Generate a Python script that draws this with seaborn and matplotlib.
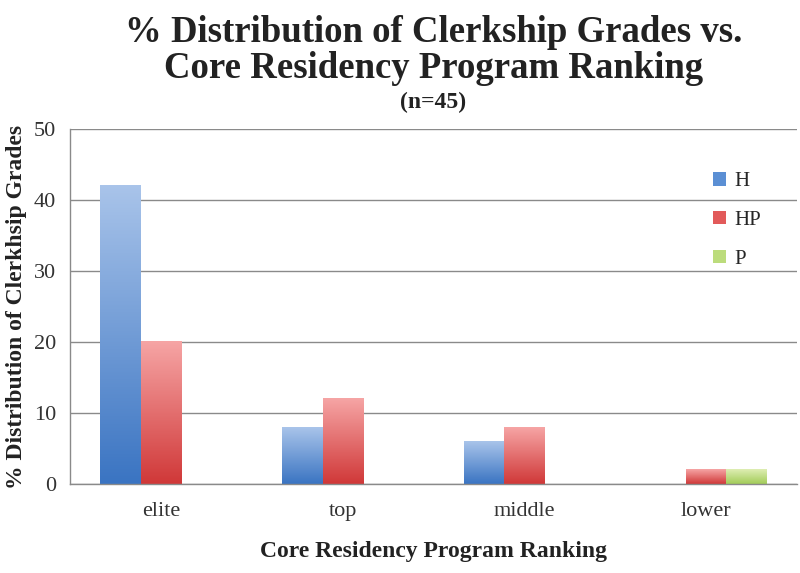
import numpy as np
import pandas as pd
import seaborn as sns
import matplotlib.pyplot as plt
from matplotlib.patches import Patch
from matplotlib.colors import LinearSegmentedColormap

rankings = ['elite', 'top', 'middle', 'lower']
grades = ['H', 'HP', 'P']
h_pct = [42, 8, 6, 0]
hp_pct = [20, 12, 8, 2]
p_pct = [0, 0, 0, 2]

# light (top) -> dark (bottom) per grade
grad_colors = {
    'H': ('#a9c4ea', '#3a74c2'),
    'HP': ('#f6a5a5', '#d03838'),
    'P': ('#dfeeb4', '#a2cc58'),
}
mid_colors = {'H': '#5b8fd4', 'HP': '#e25a5a', 'P': '#bcdc7c'}

df = pd.DataFrame({
    'ranking': rankings * 3,
    'grade': ['H'] * 4 + ['HP'] * 4 + ['P'] * 4,
    'pct': h_pct + hp_pct + p_pct,
})

sns.set_style('white')
plt.rcParams['font.family'] = ['Liberation Serif', 'DejaVu Serif']

fig = plt.figure(figsize=(8, 5.73), dpi=100)
ax = fig.add_axes([0.0875, 0.155, 0.909, 0.62])

sns.barplot(data=df, x='ranking', y='pct', hue='grade', order=rankings,
            hue_order=grades, palette=mid_colors, width=0.665, saturation=1,
            legend=False, ax=ax)

grad = np.linspace(0, 1, 256).reshape(-1, 1)
for g, cont in zip(grades, ax.containers):
    light, dark = grad_colors[g]
    cmap = LinearSegmentedColormap.from_list(g, [dark, light])
    for bar in cont:
        bar.set_edgecolor('none')
        x, y = bar.get_x(), bar.get_y()
        w, h = bar.get_width(), bar.get_height()
        if h <= 0:
            continue
        ax.imshow(grad, extent=[x, x + w, y, y + h], origin='lower',
                  aspect='auto', cmap=cmap, zorder=2)

ax.set_xlim(-0.5, 3.5)
ax.set_ylim(0, 50)
ax.set_yticks(range(0, 51, 10))
ax.yaxis.grid(True, color='#8a8a8a', lw=1)
ax.set_axisbelow(True)

for s in ['top', 'right']:
    ax.spines[s].set_visible(False)
for s in ['left', 'bottom']:
    ax.spines[s].set_color('#8a8a8a')
    ax.spines[s].set_linewidth(1)

ax.set_xticks(range(4))
ax.set_xticklabels(rankings)
ax.set_xticks([0.5, 1.5, 2.5, 3.5], minor=True)
ax.tick_params(axis='x', which='major', length=0, pad=13, labelsize=16, labelcolor='#333333')
ax.tick_params(axis='x', which='minor', length=5, direction='out', color='#8a8a8a')
ax.tick_params(axis='y', length=7, direction='out', color='#8a8a8a', labelsize=16,
               labelcolor='#333333', pad=3)

ax.set_xlabel('Core Residency Program Ranking', fontsize=17, weight='bold',
              color='#222222', labelpad=14)
ax.set_ylabel('% Distribution of Clerkhsip Grades', fontsize=17, weight='bold',
              color='#222222', labelpad=5)

handles = [Patch(facecolor=mid_colors[g], edgecolor='none') for g in grades]
fig.legend(handles, grades, loc='upper left', bbox_to_anchor=(0.868, 0.732),
           frameon=False, fontsize=15, labelspacing=0.95, handlelength=0.6,
           handleheight=0.6, handletextpad=0.4)

cx = 0.5415
fig.text(cx, 1 - 33 / 573, '% Distribution of Clerkship Grades vs.', ha='center',
         va='center', fontsize=26.5, weight='bold', color='#222222')
fig.text(cx, 1 - 68 / 573, 'Core Residency Program Ranking', ha='center',
         va='center', fontsize=26.5, weight='bold', color='#222222')
fig.text(cx, 1 - 102 / 573, '(n=45)', ha='center', va='center', fontsize=17,
         weight='bold', color='#222222')

fig.savefig('out.png', dpi=100)
